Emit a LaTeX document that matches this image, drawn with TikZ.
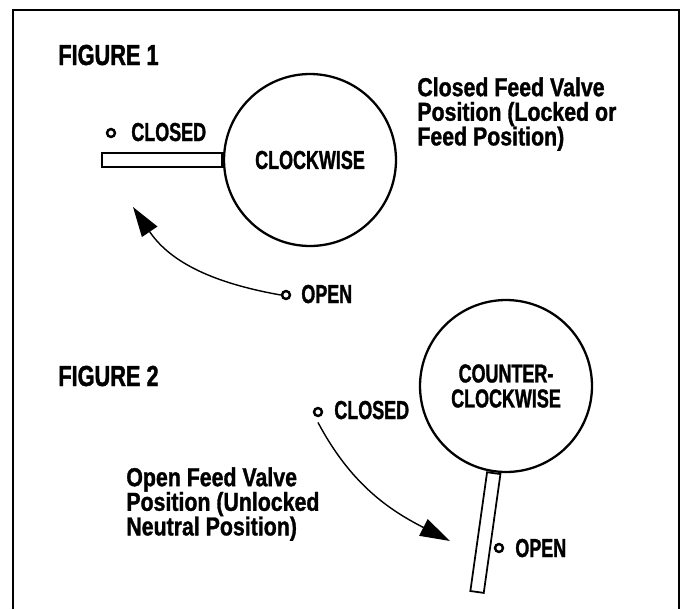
\documentclass[tikz,border=0pt]{standalone}
\usepackage{fontspec}
\usetikzlibrary{arrows.meta}
\newfontfamily\labelfont[FakeStretch=0.69,BoldFeatures={FakeBold=1.2}]{Liberation Sans}
\newfontfamily\notefont[FakeStretch=0.82,BoldFeatures={FakeBold=1.2}]{Liberation Sans}
\newfontfamily\figfont[FakeStretch=0.75,BoldFeatures={FakeBold=1.4}]{Liberation Sans}

\tikzset{
  dot/.style={circle,draw,line width=1.4pt,minimum size=4.5pt,inner sep=0pt},
  tag/.style={anchor=base west,inner sep=0pt,font=\labelfont\bfseries\fontsize{14.8}{13}\selectfont},
  note/.style={anchor=north west,align=left,inner sep=0pt,font=\notefont\bfseries\fontsize{14.8}{14}\selectfont}
}

\begin{document}
\begin{tikzpicture}[x=0.02cm,y=-0.02cm]
		\useasboundingbox (0,0) rectangle (683,609);
		\draw[line width=1pt] (13,609) -- (13,10) -- (679,10) -- (679,609);

		% dials
		\begin{scope}[every node/.style={circle,draw,line width=1.3pt,minimum size=3.44cm,inner sep=0pt,align=center,
		              font=\labelfont\bfseries\fontsize{14.8}{14.2}\selectfont}]
		    \node (dialA) at (310,160) {CLOCKWISE};
		    \node (dialB) at (506,386) {COUNTER-\\CLOCKWISE};
		\end{scope}

		% levers
		\begin{scope}[every node/.style={rectangle,draw,line width=1pt,minimum width=2.4cm,minimum height=0.27cm,inner sep=0pt}]
		    \node[anchor=east] (leverA) at (dialA.west) {};
		    \node[rotate=262,anchor=west] (leverB) at (dialB.262) {};
		\end{scope}

		% labels
		\node[anchor=base west,inner sep=0pt,font=\figfont\bfseries\fontsize{16.5}{16}\selectfont] (figA) at (58,65) {FIGURE 1};
		\node[anchor=base west,inner sep=0pt,font=\figfont\bfseries\fontsize{16.5}{16}\selectfont] (figB) at (58,386) {FIGURE 2};

		\node[dot] (dotCA) at (111,133) {};
		\node[tag] (closedA) at (131,141) {CLOSED};
		\node[dot] (dotOA) at (286,295) {};
		\node[tag] (openA) at (301,303) {OPEN};

		\node[dot] (dotCB) at (318,412) {};
		\node[tag] (closedB) at (334,419) {CLOSED};
		\node[dot] (dotOB) at (499,548) {};
		\node[tag] (openB) at (515,557) {OPEN};

		\node[note] (noteA) at (417,77) {Closed Feed Valve\\Position (Locked or\\Feed Position)};
		\node[note] (noteB) at (126,467) {Open Feed Valve\\Position (Unlocked\\Neutral Position)};

		\coordinate (tipA) at (133,207);
		\coordinate (tipB) at (450,541);

		\begin{scope}[>={Triangle[length=17pt,width=10.5pt]},
		              every edge/.style={draw=black,line width=0.8pt}]
		    \path (dotOA.west) edge[->,out=170,in=-56] (tipA);
		    \path ([yshift=-3pt]dotCB.south) edge[->,out=-62,in=153] (tipB);
		\end{scope}
\end{tikzpicture}
\end{document}
